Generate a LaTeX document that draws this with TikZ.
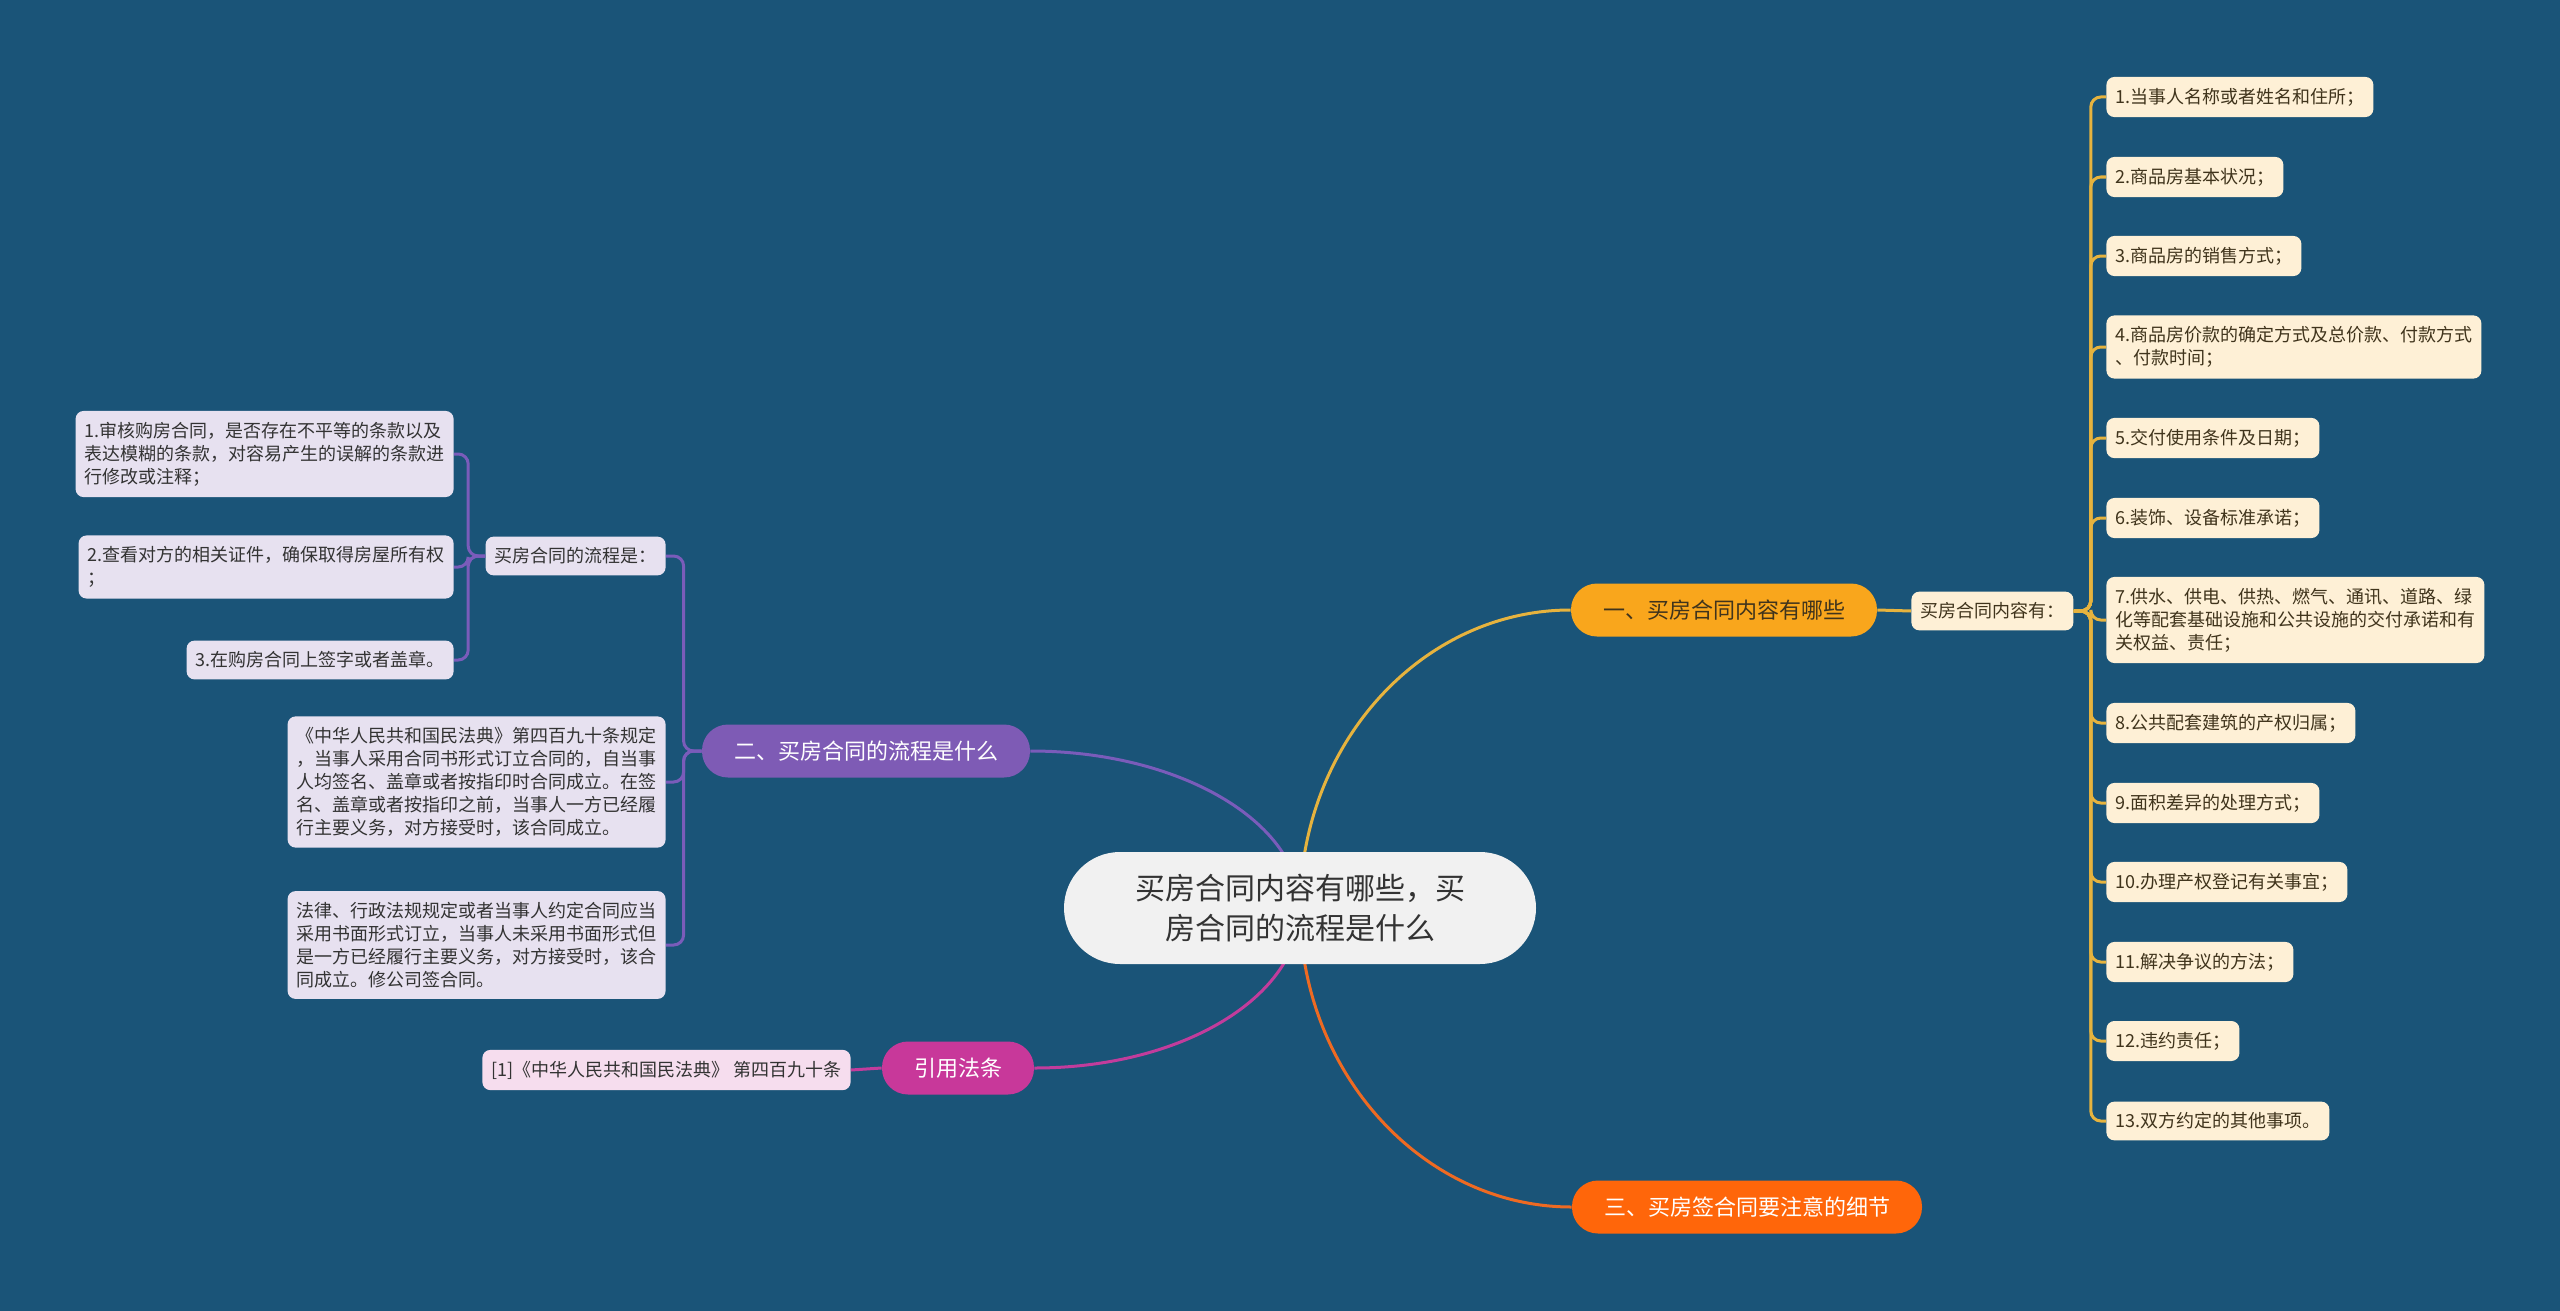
\documentclass[tikz,border=0pt]{standalone}
\usepackage{fontspec}
\setmainfont{Noto Sans CJK SC}

\definecolor{bgblue}{HTML}{1A5478}
\definecolor{rootgray}{HTML}{F1F1F1}
\definecolor{inkdark}{HTML}{333333}
\definecolor{goldtopic}{HTML}{F9A61C}
\definecolor{goldline}{HTML}{E6B33E}
\definecolor{goldleaf}{HTML}{FEF0D6}
\definecolor{goldink}{HTML}{40341C}
\definecolor{purpletopic}{HTML}{7E5BB5}
\definecolor{purpleline}{HTML}{7A5CBA}
\definecolor{purpleleaf}{HTML}{E7E1F0}
\definecolor{magtopic}{HTML}{C8389A}
\definecolor{magline}{HTML}{C23C9C}
\definecolor{magleaf}{HTML}{F6DDEE}
\definecolor{redtopic}{HTML}{FF660A}
\definecolor{redline}{HTML}{EE6A22}

\pgfdeclarelayer{edges}
\pgfsetlayers{edges,main}

\tikzset{
  root/.style={fill=rootgray, text=inkdark, rounded corners=28pt,
    minimum width=236pt, minimum height=56pt, align=center,
    font=\fontsize{15}{20}\selectfont},
  topic/.style={rounded corners=13pt, minimum height=26.5pt,
    inner xsep=16pt, inner ysep=0pt, font=\fontsize{11}{13}\selectfont},
  leaf/.style={rounded corners=4pt, inner xsep=4.5pt, inner ysep=5.5pt,
    align=left, font=\fontsize{9}{11.5}\selectfont},
  goldleafbox/.style={leaf, fill=goldleaf, text=goldink},
  purpleleafbox/.style={leaf, fill=purpleleaf, text=inkdark},
  magleafbox/.style={leaf, fill=magleaf, text=inkdark},
  link/.style={line width=1.5pt, rounded corners=5pt},
}

\begin{document}
\begin{tikzpicture}[x=0.5pt,y=-0.5pt]
    % Canvas
    \useasboundingbox (0,0) rectangle (2560,1311);
    \begin{pgfonlayer}{edges}
        \fill[bgblue] (0,0) rectangle (2560,1311);
    \end{pgfonlayer}

    % Centre topic
    \node[root] (root) at (1300,908) {买房合同内容有哪些，买\\房合同的流程是什么};

    % Main topics
    \node[topic, fill=goldtopic, text=goldink] (b1) at (1724,610) {一、买房合同内容有哪些};
    \node[topic, fill=purpletopic, text=white] (b2) at (866,751) {二、买房合同的流程是什么};
    \node[topic, fill=magtopic, text=white] (b4) at (958,1068) {引用法条};
    \node[topic, fill=redtopic, text=white] (b3) at (1747,1207) {三、买房签合同要注意的细节};

    % Right branch
    \node[goldleafbox, anchor=west] (sub1) at (1911,611) {买房合同内容有：};
    \node[goldleafbox, anchor=west] (r1) at (2106,97) {1.当事人名称或者姓名和住所；};
    \node[goldleafbox, anchor=west] (r2) at (2106,177) {2.商品房基本状况；};
    \node[goldleafbox, anchor=west] (r3) at (2106,256) {3.商品房的销售方式；};
    \node[goldleafbox, anchor=west] (r4) at (2106,347) {4.商品房价款的确定方式及总价款、付款方式\\、付款时间；};
    \node[goldleafbox, anchor=west] (r5) at (2106,438) {5.交付使用条件及日期；};
    \node[goldleafbox, anchor=west] (r6) at (2106,518) {6.装饰、设备标准承诺；};
    \node[goldleafbox, anchor=west] (r7) at (2106,620) {7.供水、供电、供热、燃气、通讯、道路、绿\\化等配套基础设施和公共设施的交付承诺和有\\关权益、责任；};
    \node[goldleafbox, anchor=west] (r8) at (2106,723) {8.公共配套建筑的产权归属；};
    \node[goldleafbox, anchor=west] (r9) at (2106,803) {9.面积差异的处理方式；};
    \node[goldleafbox, anchor=west] (r10) at (2106,882) {10.办理产权登记有关事宜；};
    \node[goldleafbox, anchor=west] (r11) at (2106,962) {11.解决争议的方法；};
    \node[goldleafbox, anchor=west] (r12) at (2106,1041) {12.违约责任；};
    \node[goldleafbox, anchor=west] (r13) at (2106,1121) {13.双方约定的其他事项。};

    % Left branch
    \node[purpleleafbox, anchor=east] (sub2) at (666,556) {买房合同的流程是：};
    \node[purpleleafbox, anchor=east] (p1) at (454,454) {1.审核购房合同，是否存在不平等的条款以及\\表达模糊的条款，对容易产生的误解的条款进\\行修改或注释；};
    \node[purpleleafbox, anchor=east] (p2) at (454,567) {2.查看对方的相关证件，确保取得房屋所有权\\；};
    \node[purpleleafbox, anchor=east] (p3) at (454,660) {3.在购房合同上签字或者盖章。};
    \node[purpleleafbox, anchor=east] (p4) at (666,782) {《中华人民共和国民法典》第四百九十条规定\\，当事人采用合同书形式订立合同的，自当事\\人均签名、盖章或者按指印时合同成立。在签\\名、盖章或者按指印之前，当事人一方已经履\\行主要义务，对方接受时，该合同成立。};
    \node[purpleleafbox, anchor=east] (p5) at (666,945) {法律、行政法规规定或者当事人约定合同应当\\采用书面形式订立，当事人未采用书面形式但\\是一方已经履行主要义务，对方接受时，该合\\同成立。修公司签合同。};
    \node[magleafbox, anchor=east] (law) at (851,1070) {[1]《中华人民共和国民法典》 第四百九十条};

    % Connectors
    \begin{pgfonlayer}{edges}
        \draw[link, goldline] (root.center) .. controls +(0,-164) and +(-149,0) .. (b1.west);
        \draw[link, redline] (root.center) .. controls +(0,164) and +(-149,0) .. (b3.west);
        \draw[link, purpleline] (root.center) .. controls +(0,-86) and +(149,0) .. (b2.east);
        \draw[link, magline] (root.center) .. controls +(0,88) and +(149,0) .. (b4.east);
    \end{pgfonlayer}
    \draw[link, goldline] (b1.east) -- (sub1.west);
    \foreach \i in {1,...,13}
        \draw[link, goldline] (sub1.east) -- ++(17,0) |- (r\i.west);
    \foreach \n in {sub2,p4,p5}
        \draw[link, purpleline] (b2.west) -- ++(-18,0) |- (\n.east);
    \foreach \n in {p1,p2,p3}
        \draw[link, purpleline] (sub2.west) -- ++(-17,0) |- (\n.east);
    \draw[link, magline] (b4.west) -- (law.east);
\end{tikzpicture}
\end{document}
